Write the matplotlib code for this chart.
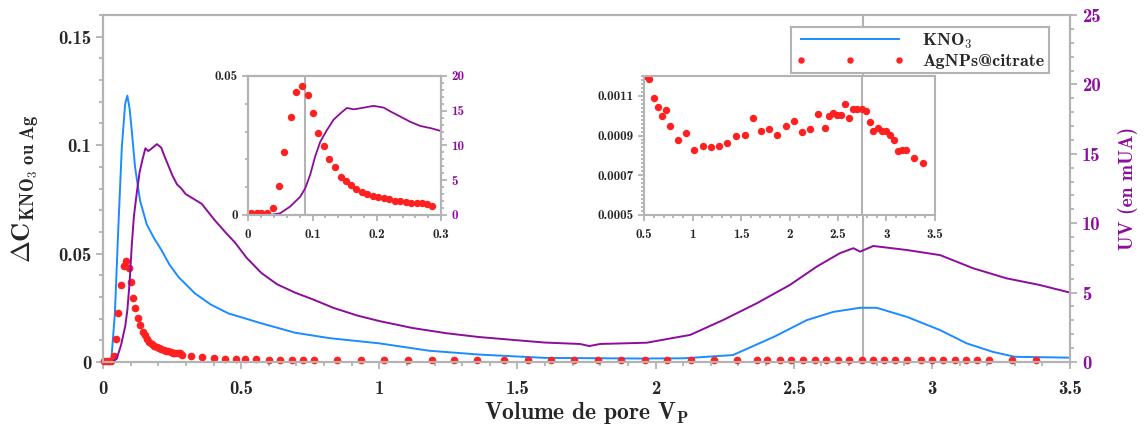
import numpy as np
import matplotlib.pyplot as plt
from matplotlib.ticker import MultipleLocator, FuncFormatter

plt.rcParams['font.family'] = ['cmb10', 'DejaVu Serif']
plt.rcParams['mathtext.fontset'] = 'cm'
plt.rcParams['axes.unicode_minus'] = False

# KNO3 curve (left axis)
vp_kno3 = [0, 0.03, 0.043, 0.055, 0.068, 0.08, 0.088, 0.096, 0.104, 0.116, 0.134, 0.158, 0.185,
           0.212, 0.24, 0.273, 0.333, 0.39, 0.454, 0.574, 0.695, 0.82, 1.0, 1.18, 1.365, 1.6, 1.94, 2.1,
           2.28, 2.43, 2.547, 2.643, 2.74, 2.8, 2.91, 3.03, 3.126, 3.22, 3.3, 3.5]
kno3 = [0, 0.001, 0.0225, 0.0607, 0.099, 0.119, 0.1228, 0.117, 0.1067, 0.0898, 0.0745, 0.0635, 0.057,
        0.0515, 0.045, 0.0392, 0.0316, 0.0265, 0.0224, 0.0178, 0.0135, 0.011, 0.0086, 0.0052, 0.0034,
        0.0019, 0.0016, 0.0017, 0.0032, 0.0117, 0.0193, 0.0231, 0.025, 0.025, 0.0208, 0.0147, 0.0086,
        0.0047, 0.0024, 0.002]

# UV signal (right axis, mUA)
vp_uv = [0, 0.035, 0.0494, 0.065, 0.0806, 0.0884, 0.0962, 0.104, 0.1118, 0.1222, 0.1326, 0.143,
         0.1534, 0.1638, 0.174, 0.195, 0.2105, 0.221, 0.2365, 0.252, 0.2677, 0.2833, 0.299,
         0.357, 0.405, 0.445, 0.478, 0.52, 0.574, 0.63, 0.695, 0.761, 0.834, 0.92, 1.0, 1.12,
         1.244, 1.36, 1.485, 1.6, 1.726, 1.76, 1.8, 1.968, 2.088, 2.125, 2.245, 2.366, 2.486,
         2.583, 2.667, 2.716, 2.74, 2.788, 2.909, 3.03, 3.15, 3.27, 3.39, 3.5]
uv = [0, 0, 0.24, 1.2, 2.6, 3.8, 5.75, 8.4, 10.5, 12.2, 13.7, 14.6,
      15.4, 15.2, 15.35, 15.7, 15.45, 14.9, 14.15, 13.4, 12.8, 12.5, 12.1,
      11.4, 10.2, 9.3, 8.6, 7.5, 6.4, 5.6, 5.0, 4.5, 3.9, 3.35, 2.95, 2.45,
      2.07, 1.8, 1.59, 1.4, 1.3, 1.15, 1.3, 1.39, 1.82, 1.95, 3.03, 4.23, 5.55,
      6.87, 7.84, 8.2, 7.95, 8.36, 8.07, 7.7, 6.75, 6.03, 5.55, 5.0]

# AgNPs@citrate points (left axis)
vp_ag = [0.004, 0.013, 0.020, 0.029, 0.039, 0.0474, 0.056, 0.066, 0.0749, 0.0832, 0.0926, 0.1009,
         0.1092, 0.1175, 0.1263, 0.1347, 0.1435, 0.152, 0.160, 0.168, 0.177, 0.185, 0.194, 0.202,
         0.211, 0.219, 0.228, 0.236, 0.245, 0.253, 0.262, 0.27, 0.278, 0.285,
         0.32, 0.36, 0.40, 0.44, 0.48, 0.515,
         0.552, 0.600, 0.641, 0.683, 0.724, 0.765, 0.848, 0.934, 1.017, 1.103, 1.189, 1.272,
         1.354, 1.45, 1.537, 1.62, 1.705, 1.791, 1.874, 1.96, 2.043, 2.129, 2.212, 2.294,
         2.367, 2.405, 2.449, 2.49, 2.535, 2.577, 2.618, 2.659, 2.7, 2.746, 2.787, 2.828,
         2.866, 2.911, 2.959, 3.0, 3.041, 3.083, 3.124, 3.165, 3.207, 3.289, 3.376]
ag = [0.0006, 0.0006, 0.0006, 0.0006, 0.0026, 0.0104, 0.0226, 0.0353, 0.0441, 0.0465, 0.0432, 0.0368,
      0.0295, 0.0249, 0.0201, 0.0172, 0.0137, 0.0124, 0.0108, 0.0093, 0.0083, 0.0075, 0.0069, 0.0066,
      0.0062, 0.0057, 0.0052, 0.005, 0.0048, 0.0043, 0.0043, 0.0043, 0.004, 0.0032,
      0.0028, 0.0022, 0.0018, 0.0015, 0.0013, 0.0012,
      0.001184, 0.00109, 0.001042, 0.001, 0.001028, 0.000946, 0.000877, 0.000912, 0.000827,
      0.000849, 0.000841, 0.000849, 0.000864, 0.000897, 0.000904, 0.000986, 0.000924, 0.000933,
      0.000904, 0.000946, 0.000973, 0.000918, 0.000933, 0.001008, 0.000938, 0.001, 0.001015,
      0.001001, 0.001001, 0.001057, 0.000986, 0.001035, 0.001035, 0.001035, 0.001022, 0.000966,
      0.000924, 0.000938, 0.000924, 0.000924, 0.000902, 0.000876, 0.00082, 0.000827, 0.000825,
      0.000788, 0.00076]

BLUE = '#1a8cff'
PURPLE = '#8c0c9c'
RED = '#ff2020'
GRAY = '#b3b3b3'
DARK = '#262626'

fmt = FuncFormatter(lambda v, p: '%g' % v)


def style(ax, size, length, color=DARK):
    for s in ax.spines.values():
        s.set_color(GRAY)
        s.set_linewidth(1.5)
    ax.tick_params(which='both', direction='out', color=GRAY, width=1.3,
                   labelsize=size, labelcolor=color)
    ax.tick_params(which='major', length=length)
    ax.tick_params(which='minor', length=length * 0.6)


fig = plt.figure(figsize=(11.46, 4.28), dpi=100)
ax = fig.add_axes([0.0899, 0.1542, 0.8438, 0.8107])
ax2 = ax.twinx()

ax.plot(vp_kno3, kno3, color=BLUE, lw=1.4, label='KNO$_\\mathbf{3}$')
ax.plot(vp_ag, ag, 'o', color=RED, ms=4.5, mec=RED, label='AgNPs@citrate', clip_on=False)
ax.axvline(2.75, color=GRAY, lw=1.5, zorder=0)
ax2.plot(vp_uv, uv, color=PURPLE, lw=1.4)

ax.set_xlim(0, 3.5)
ax.set_ylim(0, 0.16)
ax2.set_ylim(0, 25)
ax.xaxis.set_major_locator(MultipleLocator(0.5))
ax.xaxis.set_minor_locator(MultipleLocator(0.1))
ax.yaxis.set_major_locator(MultipleLocator(0.05))
ax.yaxis.set_minor_locator(MultipleLocator(0.01))
ax2.yaxis.set_major_locator(MultipleLocator(5))
ax2.yaxis.set_minor_locator(MultipleLocator(1))
ax.xaxis.set_major_formatter(fmt)
ax.yaxis.set_major_formatter(fmt)
style(ax, 13.5, 5)
style(ax2, 13.5, 5, PURPLE)
ax.tick_params(axis='x', pad=8)

ax.set_ylabel(r'$\mathbf{\Delta C}_{\mathbf{KNO_3\ ou\ Ag}}$', fontsize=19, color=DARK)
ax.yaxis.set_label_coords(-0.064, 0.5)
ax.set_xlabel(r'Volume de pore V$_\mathbf{P}$', fontsize=17, color=DARK)
ax.xaxis.set_label_coords(0.5, -0.11)
ax2.set_ylabel('UV (en mUA)', fontsize=14, color=PURPLE)
ax2.yaxis.set_label_coords(1.05, 0.5)

h, l = ax.get_legend_handles_labels()
leg = ax2.legend(h, l, loc='upper right', bbox_to_anchor=(0.9876, 0.9914), fontsize=13,
                 handlelength=6.0, numpoints=3, markerscale=0.8, fancybox=False, framealpha=1,
                 edgecolor=GRAY, borderpad=0.25, labelspacing=0.15, handletextpad=1.0)
leg.get_frame().set_linewidth(1.5)
for t in leg.get_texts():
    t.set_color(DARK)

# inset 1 : first peak
in1 = fig.add_axes([0.2166, 0.4977, 0.1684, 0.3248])
in1b = in1.twinx()
in1.plot(vp_ag, ag, 'o', color=RED, ms=4.3, mec=RED)
in1.axvline(0.088, color=GRAY, lw=1.5, zorder=0)
in1b.plot(vp_uv, uv, color=PURPLE, lw=1.3)
in1.set_xlim(0, 0.3)
in1.set_ylim(0, 0.05)
in1b.set_ylim(0, 20)
in1.set_xticks([0, 0.1, 0.2, 0.3])
in1.xaxis.set_minor_locator(MultipleLocator(0.02))
in1.set_yticks([0, 0.05])
in1.yaxis.set_minor_locator(MultipleLocator(0.01))
in1b.yaxis.set_major_locator(MultipleLocator(5))
in1b.yaxis.set_minor_locator(MultipleLocator(1))
in1.xaxis.set_major_formatter(fmt)
in1.yaxis.set_major_formatter(fmt)
style(in1, 9.5, 4)
style(in1b, 9.5, 4, PURPLE)
in1.tick_params(axis='x', pad=6)

# inset 2 : plateau
in2 = fig.add_axes([0.5622, 0.4977, 0.2535, 0.3248])
in2.plot(vp_ag, ag, 'o', color=RED, ms=4.3, mec=RED)
in2.axvline(2.75, color=GRAY, lw=1.5, zorder=0)
in2.set_xlim(0.5, 3.5)
in2.set_ylim(0.0005, 0.0012)
in2.xaxis.set_major_locator(MultipleLocator(0.5))
in2.xaxis.set_minor_locator(MultipleLocator(0.1))
in2.set_yticks([0.0005, 0.0007, 0.0009, 0.0011])
in2.set_yticks(np.arange(0.0005, 0.00121, 0.00002), minor=True)
in2.xaxis.set_major_formatter(fmt)
in2.yaxis.set_major_formatter(fmt)
style(in2, 9.5, 4)
in2.tick_params(axis='x', pad=6)

fig.savefig('out.png', dpi=100)
